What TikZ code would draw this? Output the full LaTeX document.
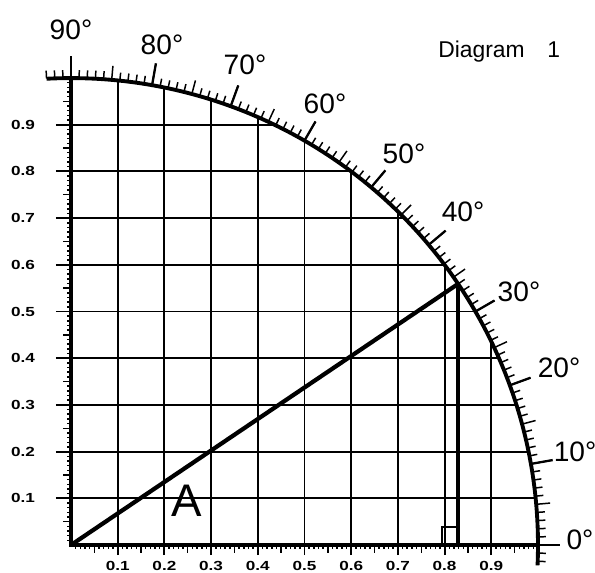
\documentclass[tikz,border=0pt]{standalone}
\usepackage{fontspec}
\setmainfont{Liberation Sans}
\usetikzlibrary{calc}
\begin{document}
\begin{tikzpicture}[x=0.02cm,y=0.02cm,
  gridline/.style={line width=1.05pt},
  axisline/.style={line width=1.8pt},
  tickline/.style={line width=0.85pt},
  bigtick/.style={line width=1.3pt},
  arcline/.style={line width=2.2pt},
  heavy/.style={line width=2.4pt},
  deglabel/.style={font=\fontsize{16}{16}\selectfont, inner sep=0pt},
  axlabel/.style={font=\fontsize{7.5}{8}\selectfont\bfseries, inner sep=0pt},
  biglabel/.style={font=\fontsize{26}{26}\selectfont, inner sep=0pt},
  titlelabel/.style={font=\fontsize{13}{13}\selectfont, inner sep=0pt, anchor=base west}]
\def\R{467}
\useasboundingbox (-71,-27) rectangle (524,545);
\coordinate (O) at (0,0);
% grid lines
\foreach \i in {1,...,9}{
  \pgfmathsetmacro\c{\i*46.7}
  \pgfmathsetmacro\e{\R*sqrt(1-(\i/10)^2)}
  \draw[gridline] (\c,-10) -- (\c,\e);
  \draw[gridline] (-15,\c) -- (\e,\c);
}
% axis ticks
\foreach \i in {1,...,99}{
  \pgfmathsetmacro\p{\i*4.67}
  \pgfmathsetmacro\L{mod(\i,5)==0 ? 8 : 4}
  \draw[tickline] (\p,0) -- (\p,-\L);
  \draw[tickline] (0,\p) -- (-\L,\p);
}
% axes
\draw[axisline] (0,\R) -- (O) -- (\R,0);
% arc
\draw[arcline] (-2.5:\R) arc[start angle=-2.5, end angle=93, radius=9.34cm];
% arc ticks
\foreach \a in {-2,...,93}{
  \pgfmathsetmacro\L{mod(\a,10)==0 ? 22 : (mod(\a,5)==0 ? 14 : 8)}
  \pgfmathsetmacro\RL{\R+\L}
  \draw[tickline] (\a:\R) -- (\a:\RL);
}
\foreach \a in {0,10,...,90}{
  \draw[bigtick] (\a:\R) -- (\a:489);
}
% triangle
\coordinate (P) at (34:\R);
\coordinate (F) at (P |- O);
\draw[heavy] (O) -- (P);
\draw[heavy] (P) -- (F);
\draw[tickline] ($(F)+(0,18)$) -- ($(F)+(-16,18)$) -- ($(F)+(-16,0)$);
% degree labels
\foreach \a/\x/\y in {90/0/515, 80/91/500, 70/174/480, 60/254/441, 50/333/391,
                      40/392/333, 30/448/253, 20/488/177, 10/504/93, 0/509/5}{
  \node[deglabel] (deg\a) at (\x,\y) {\a°};
}
% axis labels
\foreach \i in {1,...,9}{
  \node[axlabel] (xl\i) at (\i*46.7,-21) {\scalebox{1.3}[1]{0.\i}};
  \node[axlabel] (yl\i) at (-48,\i*46.7) {\scalebox{1.3}[1]{0.\i}};
}
\node[biglabel] (A) at (116,44) {A};
\node[titlelabel] (title) at (367,487) {Diagram\quad 1};
\end{tikzpicture}
\end{document}
